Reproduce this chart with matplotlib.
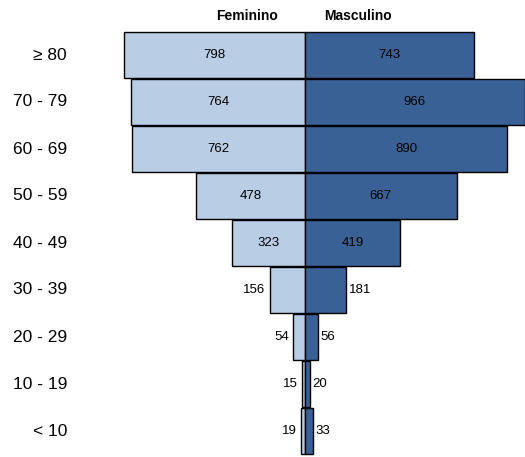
import matplotlib.pyplot as plt

ages = ['≥ 80', '70 - 79', '60 - 69', '50 - 59', '40 - 49', '30 - 39', '20 - 29', '10 - 19', '< 10']
feminino = [798, 764, 762, 478, 323, 156, 54, 15, 19]
masculino = [743, 966, 890, 667, 419, 181, 56, 20, 33]

light = '#b9cde5'
dark = '#3a6196'

fig = plt.figure(figsize=(5.25, 4.57), dpi=100)
ax = fig.add_axes([0, 0, 1, 1])
upp = 4.4  # data units per pixel
ax.set_xlim(-305 * upp, 220 * upp)
ax.set_ylim((457 - 55) / 47, -55 / 47)
ax.axis('off')

y = list(range(len(ages)))
ax.barh(y, [-v for v in feminino], height=0.98, color=light, edgecolor='black', linewidth=1)
ax.barh(y, masculino, height=0.98, color=dark, edgecolor='black', linewidth=1)

for i, lab in enumerate(ages):
    ax.text(-238 * upp, i, lab, ha='right', va='center', fontsize=12.5, family='Liberation Sans')
    f, m = feminino[i], masculino[i]
    if f > 200:
        ax.text(-f / 2, i, str(f), ha='center', va='center', fontsize=9.5, family='Liberation Sans')
    else:
        ax.text(-f - 4 * upp, i, str(f), ha='right', va='center', fontsize=9.5, family='Liberation Sans')
    if m > 200:
        ax.text(m / 2, i, str(m), ha='center', va='center', fontsize=9.5, family='Liberation Sans')
    else:
        ax.text(m + 3 * upp, i, str(m), ha='left', va='center', fontsize=9.5, family='Liberation Sans')

ax.text(-58 * upp, -38 / 47 - 0.02, 'Feminino', ha='center', va='center', fontsize=10,
        fontweight='bold', family='Liberation Sans')
ax.text(53 * upp, -38 / 47 - 0.02, 'Masculino', ha='center', va='center', fontsize=10,
        fontweight='bold', family='Liberation Sans')

fig.savefig('out.png', dpi=100)
